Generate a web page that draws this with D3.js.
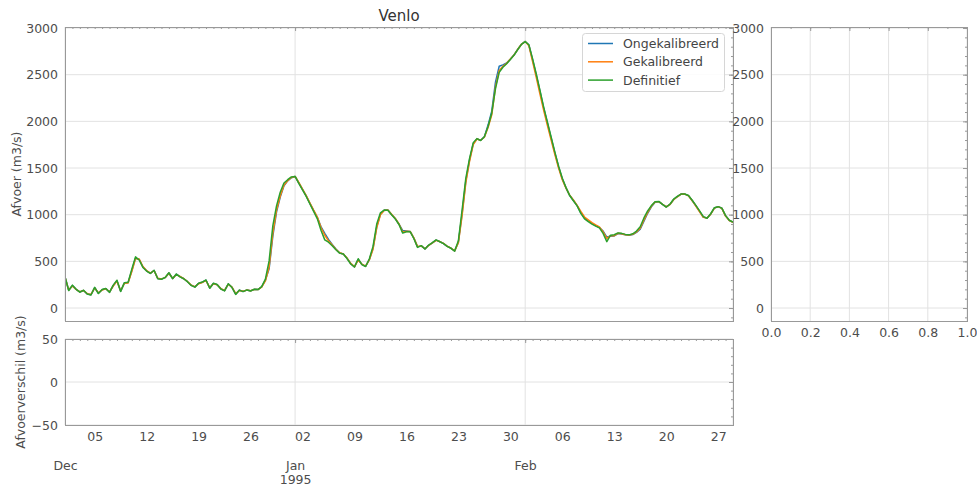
<!DOCTYPE html>
<html>
<head>
<meta charset="utf-8">
<script src="https://cdn.jsdelivr.net/npm/d3@7"></script>
<style>
body { margin: 0; background: #fff; }
text { font-family: "DejaVu Sans", sans-serif; }
</style>
</head>
<body>
<script>
// half-daily discharge at Venlo, 1 Dec 1994 .. 1 Mar 1995
var startDate = new Date(1994, 11, 1),
    endDate = new Date(1995, 2, 1),
    stepHours = 12;

var seriesNames = ["Ongekalibreerd", "Gekalibreerd", "Definitief"];
var seriesColors = ["#1f77b4", "#ff7f0e", "#2ca02c"];

var ongekalibreerd = [
  332,190,240,200,172,188,150,142,218,158,
  196,208,170,240,292,180,268,272,400,535,
  520,440,398,372,402,316,310,326,375,316,
  362,336,314,282,244,226,264,276,298,214,
  264,250,206,186,258,222,150,190,178,192,
  184,200,198,228,300,420,770,1030,1190,1310,
  1362,1396,1410,1342,1272,1202,1122,1045,970,870,
  800,735,680,632,590,578,533,475,441,520,
  468,447,518,640,870,1005,1047,1050,1003,958,
  898,830,825,820,750,655,666,634,672,699,
  728,711,691,661,641,611,705,1010,1360,1585,
  1760,1812,1797,1834,1960,2110,2420,2590,2605,2625,
  2666,2711,2771,2826,2856,2818,2660,2495,2320,2140,
  1980,1822,1662,1515,1385,1288,1206,1152,1097,1020,
  965,935,908,884,862,825,760,770,772,798,
  794,785,780,788,810,845,930,1015,1085,1133,
  1140,1111,1083,1110,1163,1194,1221,1221,1204,1152,
  1095,1035,975,963,1008,1072,1086,1069,988,939,
  919
];

var gekalibreerd = [
  330,192,236,200,174,188,154,146,214,162,
  194,206,172,236,288,185,265,268,390,530,
  525,444,400,374,400,318,312,326,372,318,
  358,338,315,284,246,228,260,274,294,218,
  260,249,208,188,255,224,154,188,180,192,
  185,198,198,225,290,440,800,1050,1200,1315,
  1365,1398,1410,1345,1275,1205,1125,1048,975,860,
  780,720,675,630,592,578,535,478,442,515,
  470,448,515,630,860,1000,1045,1050,1005,960,
  900,815,822,820,752,658,665,635,670,698,
  725,712,692,662,642,612,700,990,1340,1570,
  1750,1810,1798,1830,1935,2070,2370,2545,2590,2622,
  2668,2712,2772,2826,2855,2810,2640,2470,2290,2115,
  1955,1800,1645,1500,1375,1285,1210,1158,1100,1035,
  975,945,915,890,868,815,745,775,775,800,
  796,786,782,790,815,855,945,1025,1090,1135,
  1140,1112,1085,1108,1160,1192,1220,1221,1203,1150,
  1092,1030,972,965,1005,1070,1086,1068,985,938,
  918
];

var definitief = [
  335,188,245,200,170,190,150,140,222,155,
  198,210,168,245,298,178,272,275,415,548,
  515,435,396,370,405,314,308,328,378,314,
  364,334,314,282,242,224,266,278,300,212,
  266,252,204,184,260,220,146,192,176,194,
  183,201,198,230,310,505,880,1095,1240,1340,
  1375,1405,1410,1335,1265,1195,1115,1035,955,830,
  730,705,668,625,588,578,530,472,440,528,
  465,445,525,660,900,1020,1050,1048,1000,955,
  895,803,818,818,745,650,668,632,675,700,
  730,710,690,660,640,610,720,1050,1390,1600,
  1770,1815,1795,1836,1945,2090,2350,2525,2580,2618,
  2664,2710,2770,2825,2855,2820,2670,2505,2330,2150,
  1990,1830,1670,1520,1390,1290,1205,1150,1095,1015,
  955,925,900,877,858,800,711,780,785,805,
  800,789,784,795,825,870,965,1040,1097,1139,
  1142,1110,1082,1112,1166,1196,1221,1221,1205,1155,
  1100,1040,979,962,1010,1075,1086,1070,990,940,
  920
];

var afvoerTicks = [0, 500, 1000, 1500, 2000, 2500, 3000];
var verschilTicks = [-50, 0, 50];
var sideTicks = [0, 0.2, 0.4, 0.6, 0.8, 1.0];

var width = 977, height = 486;
var textCol = "#4d4d4d", spineCol = "#999", gridCol = "#e2e2e2";

var svg = d3.select("body").append("svg")
    .attr("width", width)
    .attr("height", height);

var x = d3.scaleTime().domain([startDate, endDate]).range([65, 733]);
var y = d3.scaleLinear().domain([-139, 3011]).range([321, 27]);
var yd = d3.scaleLinear().domain([-50, 50]).range([425, 339]);
var xs = d3.scaleLinear().domain([0, 1]).range([771, 967]);

function tidy(g) {
    g.select(".domain").remove();
    g.selectAll("text").attr("fill", textCol).style("font-size", "12.5px");
    g.selectAll("line").attr("stroke", spineCol);
}

// ---------- grids
var days = d3.timeDay.range(startDate, endDate);
var months = d3.timeMonth.range(startDate, d3.timeDay.offset(endDate, 1));

function vgrid(top, bottom, vals, sc) {
    svg.append("g").selectAll("line").data(vals).enter().append("line")
        .attr("x1", function(d){ return sc(d); }).attr("x2", function(d){ return sc(d); })
        .attr("y1", top).attr("y2", bottom)
        .attr("stroke", gridCol).attr("stroke-width", 1);
}
function hgrid(left, right, vals, sc) {
    svg.append("g").selectAll("line").data(vals).enter().append("line")
        .attr("x1", left).attr("x2", right)
        .attr("y1", function(d){ return sc(d); }).attr("y2", function(d){ return sc(d); })
        .attr("stroke", gridCol).attr("stroke-width", 1);
}
hgrid(65, 733, afvoerTicks, y);
vgrid(27, 321, months, x);
hgrid(65, 733, verschilTicks, yd);
vgrid(339, 425, months, x);
hgrid(771, 967, afvoerTicks, y);
vgrid(27, 321, sideTicks, xs);

// ---------- lines
svg.append("clipPath").attr("id", "clip")
  .append("rect").attr("x", 65).attr("y", 27).attr("width", 668).attr("height", 294);

var series = [ongekalibreerd, gekalibreerd, definitief];
var line = d3.line()
    .x(function(d, i){ return x(d3.timeHour.offset(startDate, i * stepHours)); })
    .y(function(d){ return y(d); });

series.forEach(function(s, k){
    svg.append("path")
        .attr("clip-path", "url(#clip)")
        .attr("d", line(s))
        .attr("fill", "none")
        .attr("stroke", seriesColors[k])
        .attr("stroke-width", 1.5)
        .attr("stroke-linejoin", "round");
});

// ---------- frames
function frame(l, t, r, b) {
    svg.append("rect").attr("x", l + 0.5).attr("y", t + 0.5)
        .attr("width", r - l).attr("height", b - t)
        .attr("fill", "none").attr("stroke", spineCol).attr("stroke-width", 1);
}

// inward minor/major ticks on top and right spines
function topTicks(ty, minorVals, majorVals, sc) {
    svg.append("g").attr("transform", "translate(0," + ty + ")")
        .call(d3.axisTop(sc).tickValues(minorVals).tickSize(-2).tickFormat(""))
        .call(tidy);
    svg.append("g").attr("transform", "translate(0," + ty + ")")
        .call(d3.axisTop(sc).tickValues(majorVals).tickSize(-4).tickFormat(""))
        .call(tidy);
}
function rightTicks(tx, minorVals, majorVals, sc) {
    svg.append("g").attr("transform", "translate(" + tx + ",0)")
        .call(d3.axisRight(sc).tickValues(minorVals).tickSize(-2).tickFormat(""))
        .call(tidy);
    svg.append("g").attr("transform", "translate(" + tx + ",0)")
        .call(d3.axisRight(sc).tickValues(majorVals).tickSize(-4).tickFormat(""))
        .call(tidy);
}

topTicks(27, days, months, x);
rightTicks(733, d3.range(-100, 3001, 100), afvoerTicks, y);
topTicks(339, days, months, x);
rightTicks(733, d3.range(-50, 51, 10), verschilTicks, yd);
topTicks(27, d3.range(0, 1.01, 0.1), sideTicks, xs);
rightTicks(967, d3.range(-100, 3001, 100), afvoerTicks, y);

frame(65, 27, 733, 321);
frame(65, 339, 733, 425);
frame(771, 27, 967, 321);

// ---------- tick labels
svg.append("g").attr("transform", "translate(65,0)")
    .call(d3.axisLeft(y).tickValues(afvoerTicks).tickSize(0).tickPadding(7).tickFormat(d3.format("d")))
    .call(tidy);
svg.append("g").attr("transform", "translate(65,0)")
    .call(d3.axisLeft(yd).tickValues(verschilTicks).tickSize(0).tickPadding(7)
        .tickFormat(function(d){ return d < 0 ? "\u2212" + Math.abs(d) : d; }))
    .call(tidy);
svg.append("g").attr("transform", "translate(771,0)")
    .call(d3.axisLeft(y).tickValues(afvoerTicks).tickSize(0).tickPadding(7).tickFormat(d3.format("d")))
    .call(tidy);
svg.append("g").attr("transform", "translate(0,321)")
    .call(d3.axisBottom(xs).tickValues(sideTicks).tickSize(0).tickPadding(7).tickFormat(d3.format(".1f")))
    .call(tidy);

// weekly day numbers and month names under the difference panel
svg.append("g").attr("transform", "translate(0,425)")
    .call(d3.axisBottom(x).tickValues(d3.timeMonday.range(startDate, endDate))
        .tickSize(0).tickPadding(7).tickFormat(d3.timeFormat("%d")))
    .call(tidy);
var monthAxis = svg.append("g").attr("transform", "translate(0,425)")
    .call(d3.axisBottom(x).tickValues(d3.timeMonth.range(startDate, endDate))
        .tickSize(0).tickPadding(36).tickFormat(d3.timeFormat("%b")))
    .call(tidy);
monthAxis.selectAll("text").each(function(d){
    if (d.getMonth() === 0) {
        d3.select(this).append("tspan")
            .attr("x", 0).attr("dy", "1.15em")
            .text(d3.timeFormat("%Y")(d));
    }
});

// ---------- axis titles
svg.append("text")
    .attr("transform", "translate(21,174) rotate(-90)")
    .attr("text-anchor", "middle")
    .attr("fill", textCol).style("font-size", "12.5px")
    .text("Afvoer (m3/s)");
svg.append("text")
    .attr("transform", "translate(25,382) rotate(-90)")
    .attr("text-anchor", "middle")
    .attr("fill", textCol).style("font-size", "12.5px")
    .text("Afvoerverschil (m3/s)");
svg.append("text")
    .attr("x", 399).attr("y", 21)
    .attr("text-anchor", "middle")
    .attr("fill", "#333").style("font-size", "15px")
    .text("Venlo");

// ---------- legend
var legend = svg.append("g");
legend.append("rect")
    .attr("x", 582.5).attr("y", 33.5).attr("width", 142).attr("height", 58)
    .attr("rx", 3)
    .attr("fill", "#fff").attr("fill-opacity", 0.85)
    .attr("stroke", "#d6d6d6");
seriesNames.forEach(function(n, i){
    var ly = 43.5 + i * 18.3;
    legend.append("line")
        .attr("x1", 588).attr("x2", 613).attr("y1", ly).attr("y2", ly)
        .attr("stroke", seriesColors[i]).attr("stroke-width", 1.5);
    legend.append("text")
        .attr("x", 623).attr("y", ly + 4.5)
        .attr("fill", "#444").style("font-size", "12.5px")
        .text(n);
});
</script>
</body>
</html>
